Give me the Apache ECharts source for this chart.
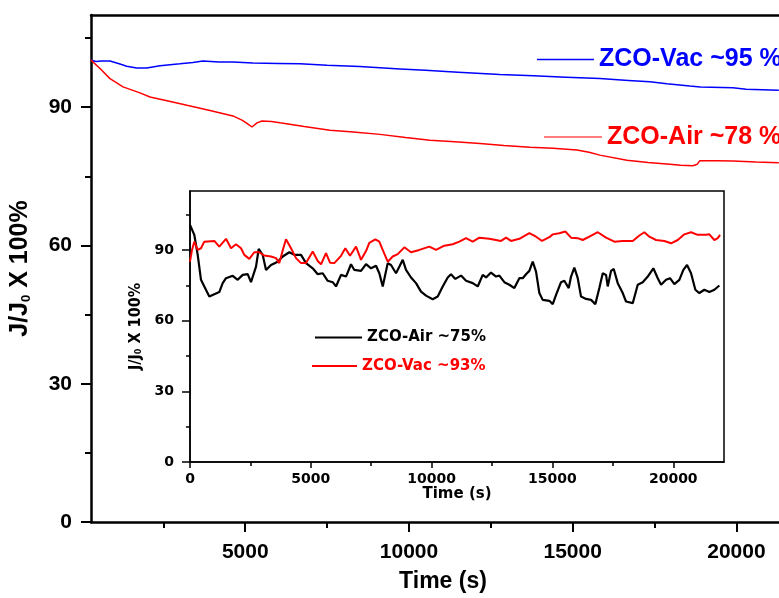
<!DOCTYPE html>
<html>
<head>
<meta charset="utf-8">
<script src="https://cdn.jsdelivr.net/npm/echarts@6/dist/echarts.min.js"></script>
<style>html,body{margin:0;padding:0;background:#fff}#c{width:779px;height:598px}</style>
</head>
<body>
<div id="c"></div>
<script>
// ---------- Main chart data ----------
var mainVacT = [290,450,600,870,1023,1200,1380,1685,1990,2400,3007,3400,3710,4200,4625,5236,6000,6671,7500,8500,9724,10500,11500,12777,13800,14800,15830,16700,17357,17875,18577,18900,19890,20300,21295];
var mainVacJ = [100.2,99.9,100.0,100.0,99.7,99.3,98.9,98.5,98.5,99.0,99.4,99.7,100.0,99.8,99.8,99.6,99.5,99.4,99.1,98.8,98.3,98.0,97.6,97.1,96.8,96.5,96.2,95.8,95.5,95.1,94.6,94.4,94.2,93.9,93.7];
var mainAirT = [290,565,870,1267,1786,2091,2610,3221,3923,4625,4900,5053,5206,5359,5511,5800,6060,6800,7587,8300,9113,9900,10640,11400,12166,12900,13693,14400,15128,15500,15830,16655,17300,17967,18300,18669,18800,18883,19400,19890,20600,21295];
var mainAirJ = [100.2,98.4,96.2,94.4,93.1,92.2,91.4,90.4,89.3,88.1,87.2,86.5,85.7,86.6,87.0,86.9,86.6,85.8,85.0,84.6,84.1,83.4,82.85,82.5,82.1,81.7,81.3,81.1,80.7,80.2,79.6,78.5,78.0,77.6,77.4,77.3,77.6,78.4,78.4,78.3,78.1,77.96];

// ---------- Inset data ----------
var insetAirT = [0,178,319,455,592,799,1006,1213,1353,1490,1767,1974,2181,2388,2525,2732,2843,3009,3146,3353,3630,3837,4110,4317,4594,4801,5079,5286,5493,5699,5906,6043,6250,6457,6664,6800,7078,7285,7492,7699,7835,7976,8183,8319,8526,8663,8804,8940,9147,9354,9561,9768,10045,10252,10459,10666,10803,10981,11217,11424,11701,11908,12115,12251,12458,12665,12802,13009,13216,13423,13630,13770,13907,14044,14184,14321,14458,14598,14871,15012,15149,15356,15492,15674,15770,15906,16047,16183,16390,16597,16775,16941,17082,17218,17288,17425,17537,17702,17909,18046,18323,18530,18737,18944,19176,19358,19495,19702,19867,20045,20252,20418,20571,20736,20914,21080,21287,21494,21701,21908];
var insetAirJ = [100.6,96.4,87.9,77.3,74.5,70.2,71.2,72.1,75.9,78.0,79.0,77.3,79.4,79.7,76.3,82.9,90.4,87.9,81.5,83.6,85.0,87.2,89.0,87.9,87.9,84.4,82.2,79.7,80.1,76.9,76.3,74.5,79.4,78.7,83.9,81.5,81.1,84.0,82.2,83.3,80.1,74.5,84.4,83.6,80.1,82.9,85.8,81.5,78.3,75.9,72.3,70.6,69.1,70.2,74.5,78.3,79.7,77.7,79.1,76.9,75.9,74.5,79.4,78.3,80.4,78.7,79.1,76.3,75.2,73.8,78.0,78.0,79.7,81.1,85.0,80.8,71.7,68.8,68.4,67.0,70.9,76.3,76.9,73.8,78.7,82.5,78.0,70.2,69.2,68.8,67.0,73.8,80.1,79.4,74.5,81.1,81.9,75.9,71.7,68.1,67.4,75.2,76.3,78.7,82.2,78.0,75.2,77.3,78.0,75.5,77.3,81.5,83.6,80.1,73.1,71.7,73.1,72.1,73.1,74.9];
var insetVacT = [0,83,178,319,455,592,1006,1213,1490,1697,1904,2111,2247,2454,2661,2868,3075,3353,3560,3696,3862,3973,4180,4387,4594,4801,5079,5286,5422,5629,5795,5973,6250,6428,6622,6871,7078,7285,7421,7670,7835,7976,8183,8390,8597,8870,9147,9491,9905,10182,10526,10873,11146,11424,11701,11974,12388,12872,13079,13286,13630,14044,14321,14569,14871,15012,15285,15534,15770,16047,16254,16527,16875,17218,17562,17909,18323,18597,18804,19011,19288,19631,19909,20186,20459,20736,21013,21357,21494,21701,21842,21937];
var insetVacJ = [85.0,90.0,93.5,90.0,90.7,93.5,93.8,91.4,94.7,90.7,92.4,90.7,87.9,86.2,89.0,89.0,87.6,87.2,86.5,84.4,90.7,94.5,90.7,86.5,84.4,84.4,89.3,85.3,83.9,88.6,84.6,84.4,87.5,90.7,87.5,91.4,85.8,89.5,93.0,94.5,93.5,90.0,85.0,87.2,88.2,91.1,89.0,90.0,91.4,90.0,91.8,92.4,93.5,95.0,93.5,95.2,94.7,93.8,95.2,93.8,94.7,97.1,95.6,93.8,95.4,96.6,97.1,97.8,95.2,95.0,94.2,95.6,97.5,95.2,93.5,93.8,93.8,96.1,97.5,95.6,94.2,93.8,92.8,94.2,96.6,97.5,96.4,96.4,96.6,94.2,95.0,96.4];

// ---------- Tick values ----------
var mainXMajor = [5000,10000,15000,20000];
var mainXMinor = [2500,7500,12500,17500];
var mainYMajor = [0,30,60,90];
var mainYMinor = [15,45,75,105];
var insetXMajor = [0,5000,10000,15000,20000];
var insetXMinor = [2500,7500,12500,17500];
var insetYMajor = [0,30,60,90];
var insetYMinor = [15,45,75,105];

// ---------- Names ----------
var mainVacName = 'ZCO-Vac ~95 %';
var mainAirName = 'ZCO-Air ~78 %';
var insetAirName = 'ZCO-Air ~75%';
var insetVacName = 'ZCO-Vac ~93%';

function zip(t, j) { var out = []; for (var i = 0; i < t.length; i++) out.push([t[i], j[i]]); return out; }
function plain(v) { return String(v); }

var MF = "'Liberation Sans', Arial, sans-serif";
var IF = "'DejaVu Sans', Verdana, sans-serif";

var chart = echarts.init(document.getElementById('c'), null, {renderer: 'canvas'});
var option = {
  animation: false,
  backgroundColor: '#ffffff',
  grid: [
    {left: 91, top: 15, width: 688, height: 510, containLabel: false},
    {left: 190, top: 191, width: 534, height: 271, show: true, backgroundColor: '#ffffff', borderColor: '#000', borderWidth: 1.5, z: 3}
  ],
  xAxis: [
    {gridIndex: 0, type: 'value', position: 'bottom', min: 290, max: 21300,
     axisLine: {show: true, lineStyle: {color: '#000', width: 2.5}},
     axisTick: {show: true, inside: false, length: 10, lineStyle: {color: '#000', width: 2}, customValues: mainXMajor},
     axisLabel: {show: true, margin: 20, color: '#000', fontFamily: MF, fontWeight: 'bold', fontSize: 21, customValues: mainXMajor, formatter: plain},
     splitLine: {show: false},
     name: 'Time (s)', nameLocation: 'middle', nameGap: 48,
     nameTextStyle: {color: '#000', fontFamily: MF, fontWeight: 'bold', fontSize: 23, padding: [0, 0, 0, 16]}},
    {gridIndex: 0, type: 'value', position: 'bottom', min: 290, max: 21300,
     axisLine: {show: false}, axisLabel: {show: false}, splitLine: {show: false},
     axisTick: {show: true, length: 6, lineStyle: {color: '#000', width: 2}, customValues: mainXMinor}},
    {gridIndex: 0, type: 'value', position: 'top', min: 290, max: 21300,
     axisLine: {show: true, lineStyle: {color: '#000', width: 2.5}},
     axisTick: {show: false}, axisLabel: {show: false}, splitLine: {show: false}},
    {gridIndex: 1, type: 'value', position: 'bottom', min: 0, max: 22100, z: 4,
     axisLine: {show: true, lineStyle: {color: '#000', width: 1.5}},
     axisTick: {show: true, length: 6, lineStyle: {color: '#000', width: 1.5}, customValues: insetXMajor},
     axisLabel: {show: true, margin: 10, color: '#000', fontFamily: IF, fontWeight: 'bold', fontSize: 14, customValues: insetXMajor, formatter: plain},
     splitLine: {show: false},
     name: 'Time (s)', nameLocation: 'middle', nameGap: 23,
     nameTextStyle: {color: '#000', fontFamily: IF, fontWeight: 'bold', fontSize: 15}},
    {gridIndex: 1, type: 'value', position: 'bottom', min: 0, max: 22100, z: 4,
     axisLine: {show: false}, axisLabel: {show: false}, splitLine: {show: false},
     axisTick: {show: true, length: 4, lineStyle: {color: '#000', width: 1.5}, customValues: insetXMinor}}
  ],
  yAxis: [
    {gridIndex: 0, type: 'value', position: 'left', min: 0, max: 110,
     axisLine: {show: true, lineStyle: {color: '#000', width: 2.5}},
     axisTick: {show: true, length: 10, lineStyle: {color: '#000', width: 2}, customValues: mainYMajor},
     axisLabel: {show: true, margin: 19, color: '#000', fontFamily: MF, fontWeight: 'bold', fontSize: 21, customValues: mainYMajor, formatter: plain},
     splitLine: {show: false},
     name: '{a|J/J}{b|0}{a| X 100%}', nameLocation: 'middle', nameGap: 58,
     nameTextStyle: {color: '#000', rich: {
       a: {fontFamily: MF, fontWeight: 'bold', fontSize: 25, color: '#000'},
       b: {fontFamily: MF, fontWeight: 'bold', fontSize: 13, color: '#000', verticalAlign: 'bottom', padding: [10, 0, 0, 0]}}}},
    {gridIndex: 0, type: 'value', position: 'left', min: 0, max: 110,
     axisLine: {show: false}, axisLabel: {show: false}, splitLine: {show: false},
     axisTick: {show: true, length: 6, lineStyle: {color: '#000', width: 2}, customValues: mainYMinor}},
    {gridIndex: 1, type: 'value', position: 'left', min: 0, max: 115, z: 4,
     axisLine: {show: true, lineStyle: {color: '#000', width: 1.5}},
     axisTick: {show: true, length: 8, lineStyle: {color: '#000', width: 1.5}, customValues: insetYMajor},
     axisLabel: {show: true, margin: 16, color: '#000', fontFamily: IF, fontWeight: 'bold', fontSize: 14, customValues: insetYMajor, formatter: plain},
     splitLine: {show: false},
     name: '{a|J/J}{b|0}{a| X 100%}', nameLocation: 'middle', nameGap: 45,
     nameTextStyle: {color: '#000', rich: {
       a: {fontFamily: "'Liberation Sans Narrow', 'DejaVu Sans Condensed', sans-serif", fontWeight: 'bold', fontSize: 16, color: '#000'},
       b: {fontFamily: "'Liberation Sans Narrow', 'DejaVu Sans Condensed', sans-serif", fontWeight: 'bold', fontSize: 9, color: '#000', verticalAlign: 'bottom', padding: [6, 0, 0, 0]}}}},
    {gridIndex: 1, type: 'value', position: 'left', min: 0, max: 115, z: 4,
     axisLine: {show: false}, axisLabel: {show: false}, splitLine: {show: false},
     axisTick: {show: true, length: 4, lineStyle: {color: '#000', width: 1.5}, customValues: insetYMinor}}
  ],
  legend: [
    {data: [{name: mainVacName, icon: 'rect'}], left: 537, top: 47, orient: 'vertical', padding: 0, itemWidth: 57, itemHeight: 1.5, selectedMode: false,
     itemStyle: {color: '#0000ff', borderWidth: 0},
     textStyle: {color: '#0000ff', fontFamily: MF, fontWeight: 'bold', fontSize: 25}},
    {data: [{name: mainAirName, icon: 'rect'}], left: 544, top: 124.5, orient: 'vertical', padding: 0, itemWidth: 58, itemHeight: 1, selectedMode: false,
     itemStyle: {color: '#ff0000', borderWidth: 0},
     textStyle: {color: '#ff0000', fontFamily: MF, fontWeight: 'bold', fontSize: 25}},
    {data: [{name: insetAirName, icon: 'rect'}], left: 315, top: 330, orient: 'vertical', padding: 0, itemWidth: 47, itemHeight: 2, selectedMode: false, z: 6,
     itemStyle: {color: '#000000', borderWidth: 0},
     textStyle: {color: '#000', fontFamily: IF, fontWeight: 'bold', fontSize: 15}},
    {data: [{name: insetVacName, icon: 'rect'}], left: 312, top: 358.5, orient: 'vertical', padding: 0, itemWidth: 45, itemHeight: 2, selectedMode: false, z: 6,
     itemStyle: {color: '#ff0000', borderWidth: 0},
     textStyle: {color: '#ff0000', fontFamily: IF, fontWeight: 'bold', fontSize: 15}}
  ],
  series: [
    {name: mainVacName, type: 'line', xAxisIndex: 0, yAxisIndex: 0, data: zip(mainVacT, mainVacJ),
     symbol: 'none', showSymbol: false, lineStyle: {color: '#0000ff', width: 1.5}, itemStyle: {color: '#0000ff'}},
    {name: mainAirName, type: 'line', xAxisIndex: 0, yAxisIndex: 0, data: zip(mainAirT, mainAirJ),
     symbol: 'none', showSymbol: false, lineStyle: {color: '#ff0000', width: 1.5}, itemStyle: {color: '#ff0000'}},
    {name: insetAirName, type: 'line', xAxisIndex: 3, yAxisIndex: 2, data: zip(insetAirT, insetAirJ), z: 5,
     symbol: 'none', showSymbol: false, lineStyle: {color: '#000000', width: 2.2}, itemStyle: {color: '#000000'}},
    {name: insetVacName, type: 'line', xAxisIndex: 3, yAxisIndex: 2, data: zip(insetVacT, insetVacJ), z: 5,
     symbol: 'none', showSymbol: false, lineStyle: {color: '#ff0000', width: 2}, itemStyle: {color: '#ff0000'}}
  ]
};
chart.setOption(option);
</script>
</body>
</html>
